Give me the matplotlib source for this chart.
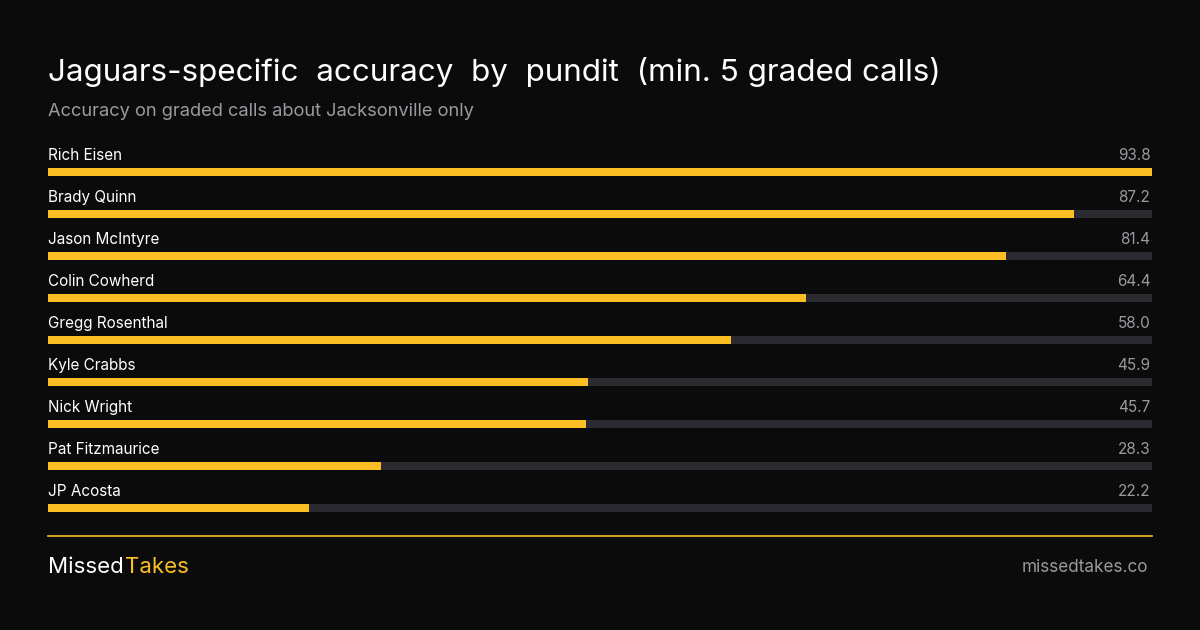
import matplotlib
matplotlib.use("Agg")
import matplotlib.pyplot as plt

names = ["Rich Eisen","Brady Quinn","Jason McIntyre","Colin Cowherd","Gregg Rosenthal",
         "Kyle Crabbs","Nick Wright","Pat Fitzmaurice","JP Acosta"]
values = [93.8,87.2,81.4,64.4,58.0,45.9,45.7,28.3,22.2]
title = "Jaguars-specific  accuracy  by  pundit  (min. 5 graded calls)"
subtitle = "Accuracy on graded calls about Jacksonville only"

BG = "#0b0b0b"; YEL = "#fbbf24"; TRACK = "#2b2a31"; GRAY = "#9a9aa0"
W, H = 1200, 630
fig = plt.figure(figsize=(12, 6.3), dpi=100, facecolor=BG)
plt.rcParams['font.family'] = ['Inter', 'DejaVu Sans']

ov = fig.add_axes([0, 0, 1, 1]); ov.set_xlim(0, W); ov.set_ylim(H, 0); ov.axis("off")
ov.text(48, 72, title, color="white", fontsize=22.6, va="center", ha="left")
ov.text(48, 111, subtitle, color=GRAY, fontsize=13.2, va="center", ha="left")
ov.plot([48, 1152], [536, 536], color=YEL, lw=1.2)
m = ov.text(48, 567, "Missed", color="white", fontsize=16, va="center", ha="left")
fig.canvas.draw()
bb = m.get_window_extent()
x_end = ov.transData.inverted().transform((bb.x1, bb.y0))[0]
ov.text(x_end + 1, 567, "Takes", color=YEL, fontsize=16, va="center", ha="left")
ov.text(1148, 567, "missedtakes.co", color=GRAY, fontsize=12.3, va="center", ha="right")

top, bot = 151, 529
ax = fig.add_axes([48/W, 1-bot/H, 1104/W, (bot-top)/H])
ax.set_facecolor("none")
vmax = max(values)
n = len(names)
ys = list(range(n))
ax.barh(ys, [vmax]*n, height=0.19, color=TRACK)
ax.barh(ys, values, height=0.19, color=YEL)
for y, nm, v in zip(ys, names, values):
    ax.text(0, y-0.4, nm, color="white", fontsize=11, va="center", ha="left")
    ax.text(vmax*0.9985, y-0.4, f"{v:.1f}", color=GRAY, fontsize=11, va="center", ha="right")
ax.set_xlim(0, vmax); ax.set_ylim(n-0.5, -0.5)
ax.axis("off")
fig.savefig("out.png", dpi=100, facecolor=BG)
